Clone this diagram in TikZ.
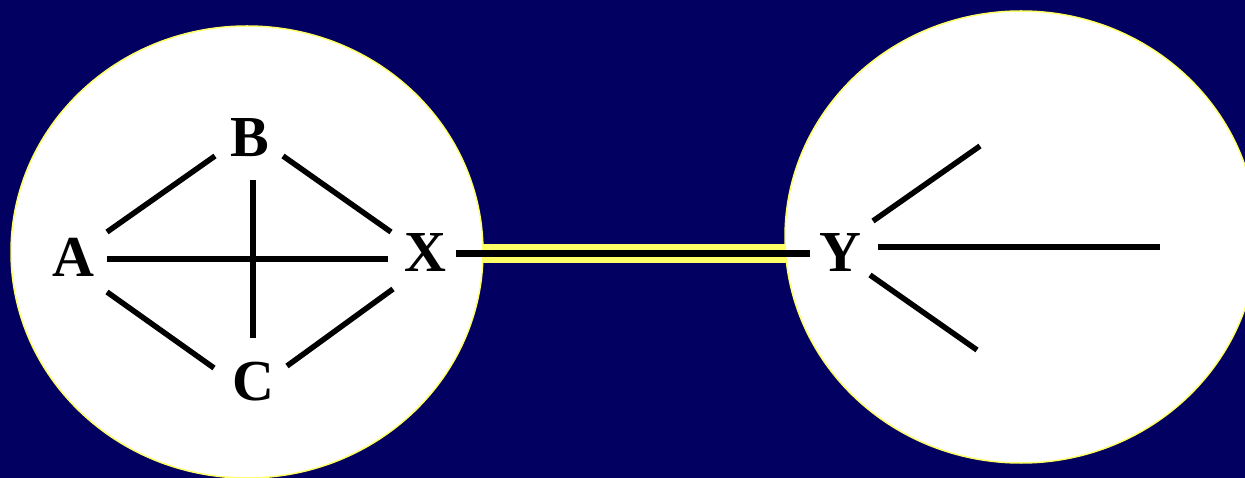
\documentclass[tikz,border=0pt]{standalone}
\usepackage{fontspec}
\setmainfont{Liberation Serif}[BoldFont={Liberation Serif Bold}]
\newfontfamily\lblfont{Liberation Serif Bold}
\usetikzlibrary{shapes.geometric}
\definecolor{navy}{RGB}{2,0,96}
\definecolor{ylw}{RGB}{255,255,102}
\begin{document}
\begin{tikzpicture}[x=1pt,y=-1pt,
  lbl/.style={font=\lblfont\fontsize{58}{58}\selectfont, inner sep=0pt, text=black},
  edge/.style={line width=5.5pt, black},
  blob/.style={fill=white, draw=ylw, line width=1.5pt}]
\useasboundingbox (0,0) rectangle (1245,478);
\fill[navy] (0,0) rectangle (1245,478);
% link
\draw[ylw, line width=19pt] (470,253.5) -- (800,253.5);
% ellipses
\node[blob, ellipse, minimum width=472pt, minimum height=452pt, inner sep=0pt] (L) at (247,252) {};
\node[blob, ellipse, minimum width=472pt, minimum height=452pt, inner sep=0pt] (R) at (1021,237) {};
% labels
\node[lbl] (A) at (73,257) {A};
\node[lbl] (B) at (250,138) {B};
\node[lbl] (X) at (425,253) {X};
\node[lbl] (C) at (253,382) {C};
\node[lbl] (Y) at (840,253) {Y};
% left graph
\draw[edge] (107,232) -- (215,156);
\draw[edge] (283,156) -- (391,232);
\draw[edge] (107,259) -- (388,259);
\draw[edge] (253,180) -- (253,338);
\draw[edge] (107,292) -- (214,368);
\draw[edge] (287,366) -- (393,289);
% X--Y
\draw[line width=6.5pt, black] (456,253.5) -- (810,253.5);
% right
\coordinate (r1) at (980,146);
\coordinate (r2) at (1160,247);
\coordinate (r3) at (977,350);
\draw[edge] (873,221) -- (r1);
\draw[edge] (878,247) -- (r2);
\draw[edge] (870,275) -- (r3);
\end{tikzpicture}
\end{document}
